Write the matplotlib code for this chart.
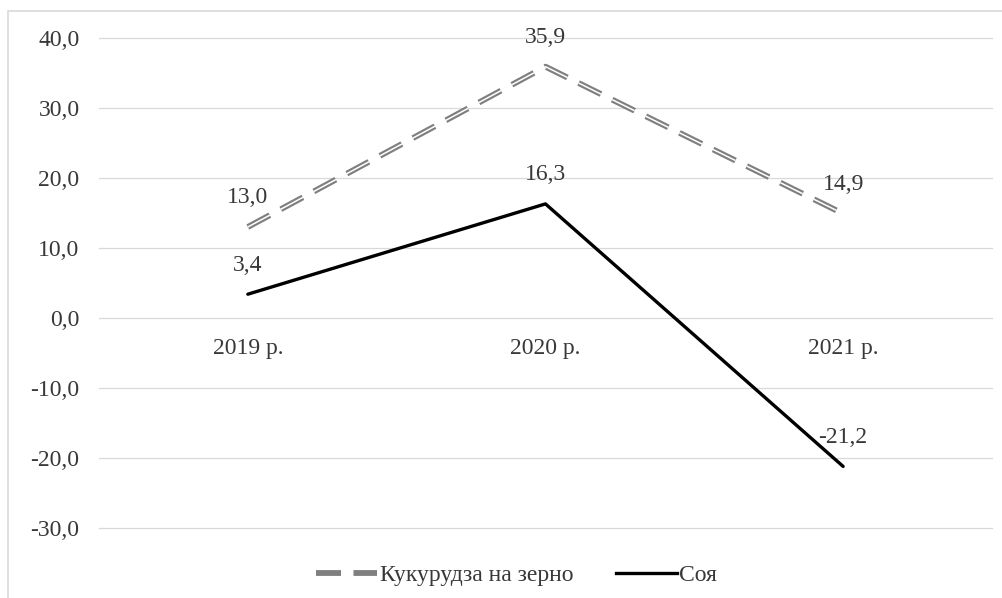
import matplotlib.pyplot as plt
from matplotlib.patches import Rectangle

years = ['2019 р.', '2020 р.', '2021 р.']
corn = [13.0, 35.9, 14.9]
soy = [3.4, 16.3, -21.2]
corn_label = 'Кукурудза на зерно'
soy_label = 'Соя'

plt.rcParams['font.family'] = ['Liberation Serif', 'DejaVu Serif']
plt.rcParams['lines.scale_dashes'] = False
txt = '#383838'
fs = 17

fig = plt.figure(figsize=(10.03, 5.98), dpi=100)
ax = fig.add_axes([0.0987, 0.117, 0.8903, 0.8195])

# light frame around the chart
fig.patches.append(Rectangle((8 / 1003, -0.05), 1.05, 1 - 11 / 598 + 0.05,
                             transform=fig.transFigure, fill=False,
                             edgecolor='#d9d9d9', lw=1.2))

x = list(range(len(years)))
dash = (0, (18, 9))
# double (compound) dashed line: gray outer, white inner
ax.plot(x, corn, color='#7f7f7f', lw=4.2, linestyle=dash, zorder=3)
ax.plot(x, corn, color='white', lw=1.1, linestyle=dash, zorder=4)
ax.plot(x, soy, color='black', lw=2.4, zorder=3, solid_capstyle='round')

for series in (corn, soy):
    for xi, v in zip(x, series):
        ax.annotate(f'{v:.1f}'.replace('.', ','), (xi, v), xytext=(0, 21),
                    textcoords='offset points', ha='center', va='center',
                    fontsize=fs, color=txt)

# category labels sit just under the zero line
for xi, lab in zip(x, years):
    ax.annotate(lab, (xi, 0), xytext=(0, -22), textcoords='offset points',
                ha='center', va='center', fontsize=fs, color=txt)

ax.set_xlim(-0.5, 2.5)
ax.set_ylim(-30, 40)
ax.set_yticks(range(-30, 41, 10))
ax.set_yticklabels([f'{t:.1f}'.replace('.', ',') for t in range(-30, 41, 10)])
ax.set_xticks([])
ax.tick_params(axis='y', length=0, pad=14, labelsize=fs, labelcolor=txt)
ax.grid(axis='y', color='#d9d9d9', lw=0.9)
for gl in ax.get_ygridlines():
    gl.set_clip_on(False)
ax.set_axisbelow(True)
for s in ax.spines.values():
    s.set_visible(False)

h1, = ax.plot([], [], color='#7f7f7f', lw=4.2, linestyle=dash)
h2, = ax.plot([], [], color='black', lw=2.4)
fig.legend([h1, h2], [corn_label, soy_label], loc='center',
           bbox_to_anchor=(0.515, 0.038), ncol=2, frameon=False,
           fontsize=fs, handlelength=2.6, handletextpad=0.1,
           columnspacing=1.8, labelcolor=txt)

fig.savefig('out.png', dpi=100)
